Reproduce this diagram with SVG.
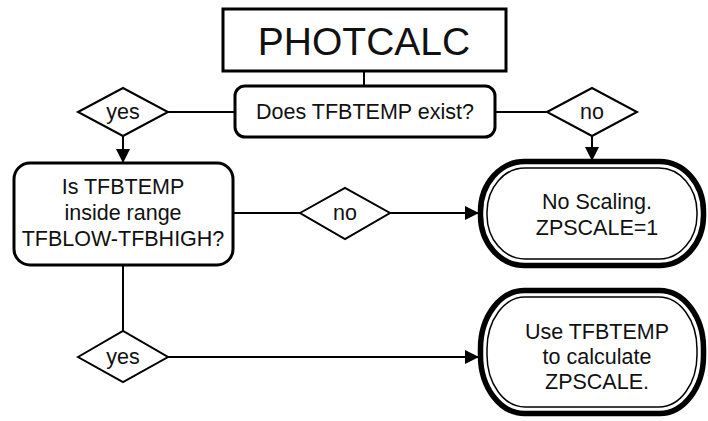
<svg xmlns="http://www.w3.org/2000/svg" width="708" height="421" viewBox="0 0 708 421">
<defs>
<marker id="arrb" markerWidth="14" markerHeight="14" refX="13" refY="7" orient="auto" markerUnits="userSpaceOnUse" viewBox="0 0 14 14">
<path d="M0,0 L14,7 L0,14 z" fill="#000"/>
</marker>
</defs>
<style>
text{font-family:"Liberation Sans",Arial,sans-serif;fill:#111;text-anchor:middle;dominant-baseline:central}
.box{fill:#fff;stroke:#000;stroke-width:3}
.dia{fill:#fff;stroke:#000;stroke-width:2}
.ln{fill:none;stroke:#000;stroke-width:2}
.outer{fill:#fff;stroke:#000;stroke-width:5.5}
.inner{fill:none;stroke:#000;stroke-width:1.5}
.t20{font-size:21.5px}
</style>
<rect width="708" height="421" fill="#fff"/>
<g id="connectors">
<line class="ln" x1="364" y1="72" x2="364" y2="86"/>
<line class="ln" x1="168" y1="112" x2="235" y2="112"/>
<line class="ln" x1="495" y1="112" x2="547" y2="112"/>
<line class="ln" x1="123" y1="136" x2="123" y2="162" marker-end="url(#arrb)"/>
<line class="ln" x1="592" y1="136" x2="592" y2="160" marker-end="url(#arrb)"/>
<line class="ln" x1="233" y1="213" x2="300" y2="213"/>
<line class="ln" x1="390" y1="213" x2="478" y2="213" marker-end="url(#arrb)"/>
<line class="ln" x1="123" y1="265" x2="123" y2="332"/>
<line class="ln" x1="168" y1="357" x2="478" y2="357" marker-end="url(#arrb)"/>
</g>
<g id="photcalc">
<rect class="box" x="223" y="9" width="283" height="62"/>
<text x="364" y="41" style="font-size:39px">PHOTCALC</text>
</g>
<g id="exist">
<rect class="box" x="235" y="86" width="260" height="51" rx="10"/>
<text class="t20" x="365" y="112">Does TFBTEMP exist?</text>
</g>
<g id="yes1">
<polygon class="dia" points="78,112 123,88 168,112 123,136"/>
<text class="t20" x="123" y="112">yes</text>
</g>
<g id="no1">
<polygon class="dia" points="547,112 592,88 637,112 592,136"/>
<text class="t20" x="592" y="112">no</text>
</g>
<g id="range">
<rect class="box" x="14" y="163" width="219" height="102" rx="16"/>
<text class="t20" x="123" y="187">Is TFBTEMP</text>
<text class="t20" x="123" y="213">inside range</text>
<text class="t20" x="123" y="239">TFBLOW-TFBHIGH?</text>
</g>
<g id="no2">
<polygon class="dia" points="300,213 345,188 390,213 345,239"/>
<text class="t20" x="345" y="213">no</text>
</g>
<g id="yes2">
<polygon class="dia" points="78,357 123,331 168,357 123,382"/>
<text class="t20" x="123" y="357">yes</text>
</g>
<g id="noscaling">
<rect class="outer" x="480.5" y="161.5" width="223" height="104" rx="44" ry="50"/>
<rect class="inner" x="487" y="168" width="210" height="91" rx="38" ry="44"/>
<text class="t20" x="597" y="202">No Scaling.</text>
<text class="t20" x="597" y="228">ZPSCALE=1</text>
</g>
<g id="usetfb">
<rect class="outer" x="480.5" y="290.5" width="223" height="123" rx="44" ry="58"/>
<rect class="inner" x="487" y="297" width="210" height="110" rx="38" ry="52"/>
<text class="t20" x="597" y="332">Use TFBTEMP</text>
<text class="t20" x="597" y="357">to calculate</text>
<text class="t20" x="597" y="382">ZPSCALE.</text>
</g>
</svg>
